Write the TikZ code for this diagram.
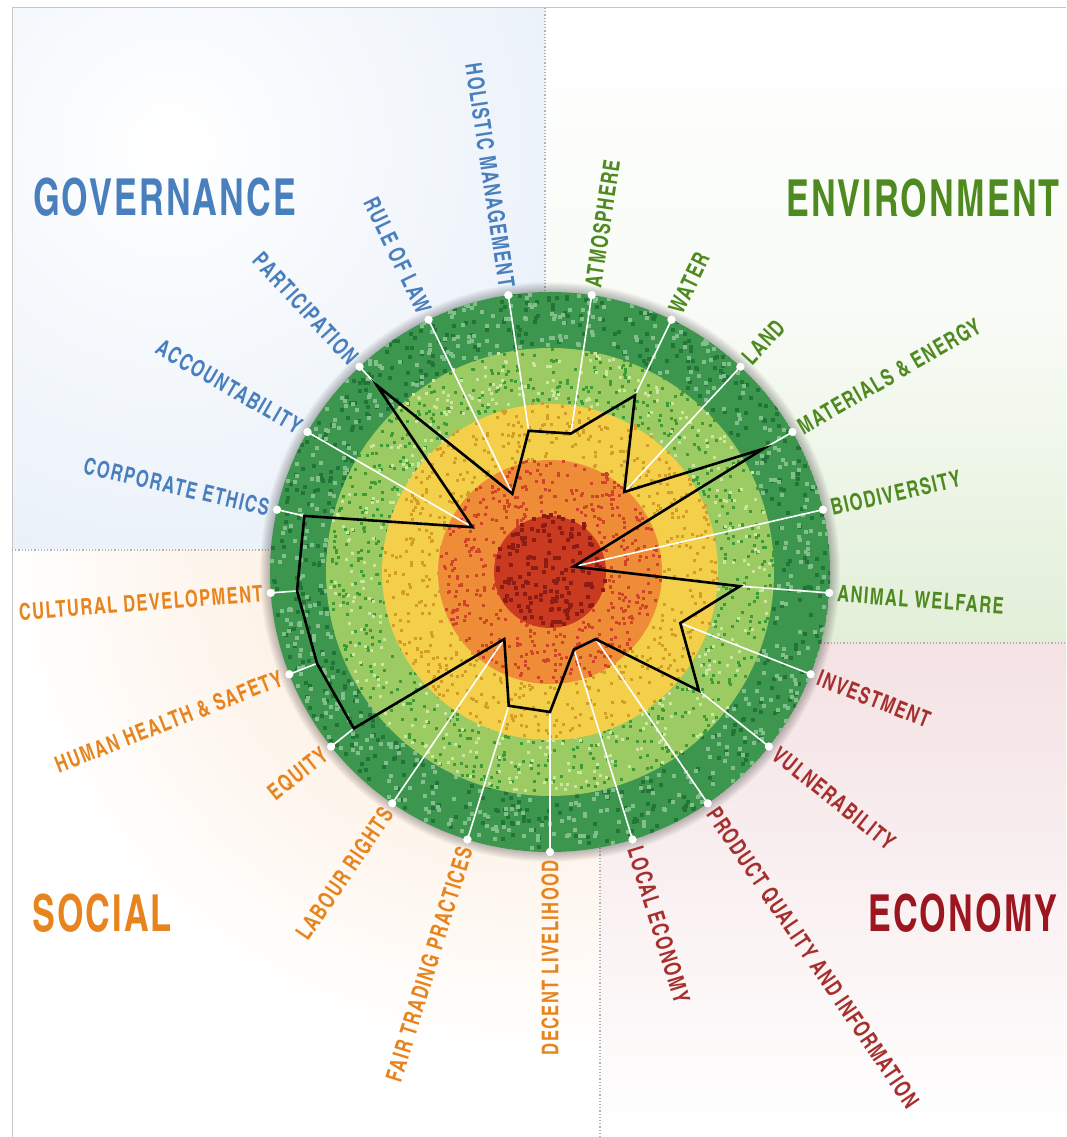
\documentclass[tikz,border=0pt]{standalone}
\usepackage{fontspec}
\usetikzlibrary{calc}
\newfontfamily\cndT{texgyreheroscn-bold.otf}[FakeStretch=0.82,LetterSpace=4]
\newfontfamily\cndL{texgyreheroscn-bold.otf}[FakeStretch=0.88,LetterSpace=6]
\definecolor{gov}{HTML}{4A7FBE}
\definecolor{env}{HTML}{4F8A20}
\definecolor{soc}{HTML}{E8841E}
\definecolor{eco}{HTML}{A6302E}
\definecolor{ecot}{HTML}{9C1620}
\definecolor{bgblue}{HTML}{EAF1F9}
\definecolor{bggreen}{HTML}{E2EFD8}
\definecolor{bgpeach}{HTML}{FDE6D0}
\definecolor{bgpink}{HTML}{F4E2E4}
\definecolor{rgdark}{HTML}{3C964E}
\definecolor{rgdarkA}{HTML}{217536}
\definecolor{rgdarkB}{HTML}{82BF8C}
\definecolor{rglight}{HTML}{9CCB64}
\definecolor{rglightA}{HTML}{3D9C38}
\definecolor{rglightB}{HTML}{CCE59F}
\definecolor{rgyel}{HTML}{F3CF4A}
\definecolor{rgyelA}{HTML}{D39E28}
\definecolor{rgor}{HTML}{EE8C38}
\definecolor{rgorA}{HTML}{D0452A}
\definecolor{rgred}{HTML}{C93A20}
\definecolor{rgredA}{HTML}{8C1C14}
\newcommand\speckring[5]{%
  \foreach \i in {1,...,#3}{%
    \pgfmathsetmacro\spa{rnd*360}%
    \pgfmathsetmacro\spr{10*sqrt((#1/10)^2+rnd*((#2/10)^2-(#1/10)^2))}%
    \fill[#4] (\spa:\spr) rectangle ++(#5,#5);
  }}
\begin{document}
\begin{tikzpicture}[x=1pt,y=1pt,
  lbl/.style={font=\cndL\fontsize{23}{23}\selectfont, inner sep=0pt, text height=16.5pt, text depth=0pt},
  ttl/.style={font=\cndT\fontsize{51}{51}\selectfont, inner sep=0pt},
  spoke/.style={white, line width=1.6pt},
  dotw/.style={circle, fill=white, inner sep=0pt, minimum size=8pt},
  poly/.style={black, line width=2.6pt, line join=miter},
  sep/.style={gray!60, line width=1.2pt, dotted}
]
\useasboundingbox (0,0) rectangle (1066,1137);
\fill[white] (0,0) rectangle (1066,1137);
% quadrant backgrounds
\begin{scope}
  \clip (12,587) rectangle (545,1129);
  \fill[bgblue] (12,587) rectangle (545,1129);
  \shade[inner color=white, outer color=bgblue] (170,990) circle (430);
\end{scope}
\begin{scope}
  \clip (545,494) rectangle (1066,1129);
  \shade[top color=white, bottom color=bggreen, middle color=white!75!bggreen] (545,494) rectangle (1066,1129);
\end{scope}
\begin{scope}
  \clip (12,0) rectangle (600,587);
  \shade[inner color=bgpeach, outer color=white] (520,600) circle (520);
\end{scope}
\begin{scope}
  \clip (600,0) rectangle (1066,494);
  \shade[top color=bgpink, bottom color=white] (600,0) rectangle (1066,494);
\end{scope}
% frame and separators
\draw[gray!45, line width=1pt] (12,0) -- (12,1129) -- (1066,1129);
\draw[sep] (545,1129) -- (545,845);
\draw[sep] (12,587) -- (271,587);
\draw[sep] (821,494) -- (1066,494);
\draw[sep] (600,289) -- (600,0);
% titles
\node[ttl, text=gov, anchor=base west] (tgov) at (33,921) {GOVERNANCE};
\node[ttl, text=env, anchor=base east] (tenv) at (1060,920) {ENVIRONMENT};
\node[ttl, text=soc, anchor=base west] (tsoc) at (32,205) {SOCIAL};
\node[ttl, text=ecot, anchor=base east] (teco) at (1058,205) {ECONOMY};
% disc
\coordinate (C) at (550,565);
\begin{scope}[shift={(550,565)}]
  \foreach \i in {1,...,10} \fill[black, opacity=0.028] (0,0) circle ({280+\i});
  \pgfmathsetseed{7}
  \begin{scope}
    \clip (0,0) circle (280);
    \fill[rgdark] (0,0) circle (280);
    \speckring{224}{280}{550}{rgdarkA}{4}
    \speckring{224}{280}{550}{rgdarkB}{4}
  \end{scope}
  \fill[rglight] (0,0) circle (224);
  \speckring{168}{224}{650}{rglightA}{3}
  \speckring{168}{224}{400}{rglightB}{3}
  \fill[rgyel] (0,0) circle (168);
  \speckring{112}{168}{550}{rgyelA}{3}
  \fill[rgor] (0,0) circle (112);
  \speckring{56}{112}{450}{rgorA}{3}
  \fill[rgred] (0,0) circle (56);
  \speckring{0}{56}{160}{rgredA}{4}
\end{scope}
% spoke geometry
\foreach \k/\v in {0/2.5,1/1.45,2/1.45,3/3.4,4/2.5,5/3.4,6/0.43,7/4.4,8/1.95,9/3.5,10/2.5,11/2.55,12/1.55,13/4.55,14/1.6,15/4.5,16/4.53,17/4.47,18/4.48,19/1.45,20/2.5}{
  \pgfmathsetmacro\a{-90+\k*360/21}
  \coordinate (v\k) at ($(C)+(\a:\v*56)$);
  \node[dotw] (d\k) at ($(C)+(\a:280)$) {};
}
\foreach \k in {0,...,20} \draw[spoke] (d\k.center) -- (v\k);
\draw[poly] (v0) \foreach \k in {1,...,20}{ -- (v\k)} -- cycle;
\foreach \k in {0,...,20} \node[dotw] at (d\k.center) {};
% labels right side
\foreach \k/\t/\c in {1/LOCAL ECONOMY/eco,2/PRODUCT QUALITY AND INFORMATION/eco,3/VULNERABILITY/eco,4/INVESTMENT/eco,5/ANIMAL WELFARE/env,6/BIODIVERSITY/env,7/MATERIALS \& ENERGY/env,8/LAND/env,9/WATER/env,10/ATMOSPHERE/env}{
  \pgfmathsetmacro\a{-90+\k*360/21}
  \node[lbl, text=\c, anchor=west, rotate=\a] (l\k) at ($(C)+(\a:288)$) {\t};
}
% labels left side
\foreach \k/\t/\c in {0/DECENT LIVELIHOOD/soc,11/HOLISTIC MANAGEMENT/gov,12/RULE OF LAW/gov,13/PARTICIPATION/gov,14/ACCOUNTABILITY/gov,15/CORPORATE ETHICS/gov,16/CULTURAL DEVELOPMENT/soc,17/HUMAN HEALTH \& SAFETY/soc,18/EQUITY/soc,19/LABOUR RIGHTS/soc,20/FAIR TRADING PRACTICES/soc}{
  \pgfmathsetmacro\a{-90+\k*360/21}
  \pgfmathsetmacro\b{\a+180}
  \node[lbl, text=\c, anchor=east, rotate=\b] (l\k) at ($(C)+(\a:288)$) {\t};
}
\end{tikzpicture}
\end{document}
